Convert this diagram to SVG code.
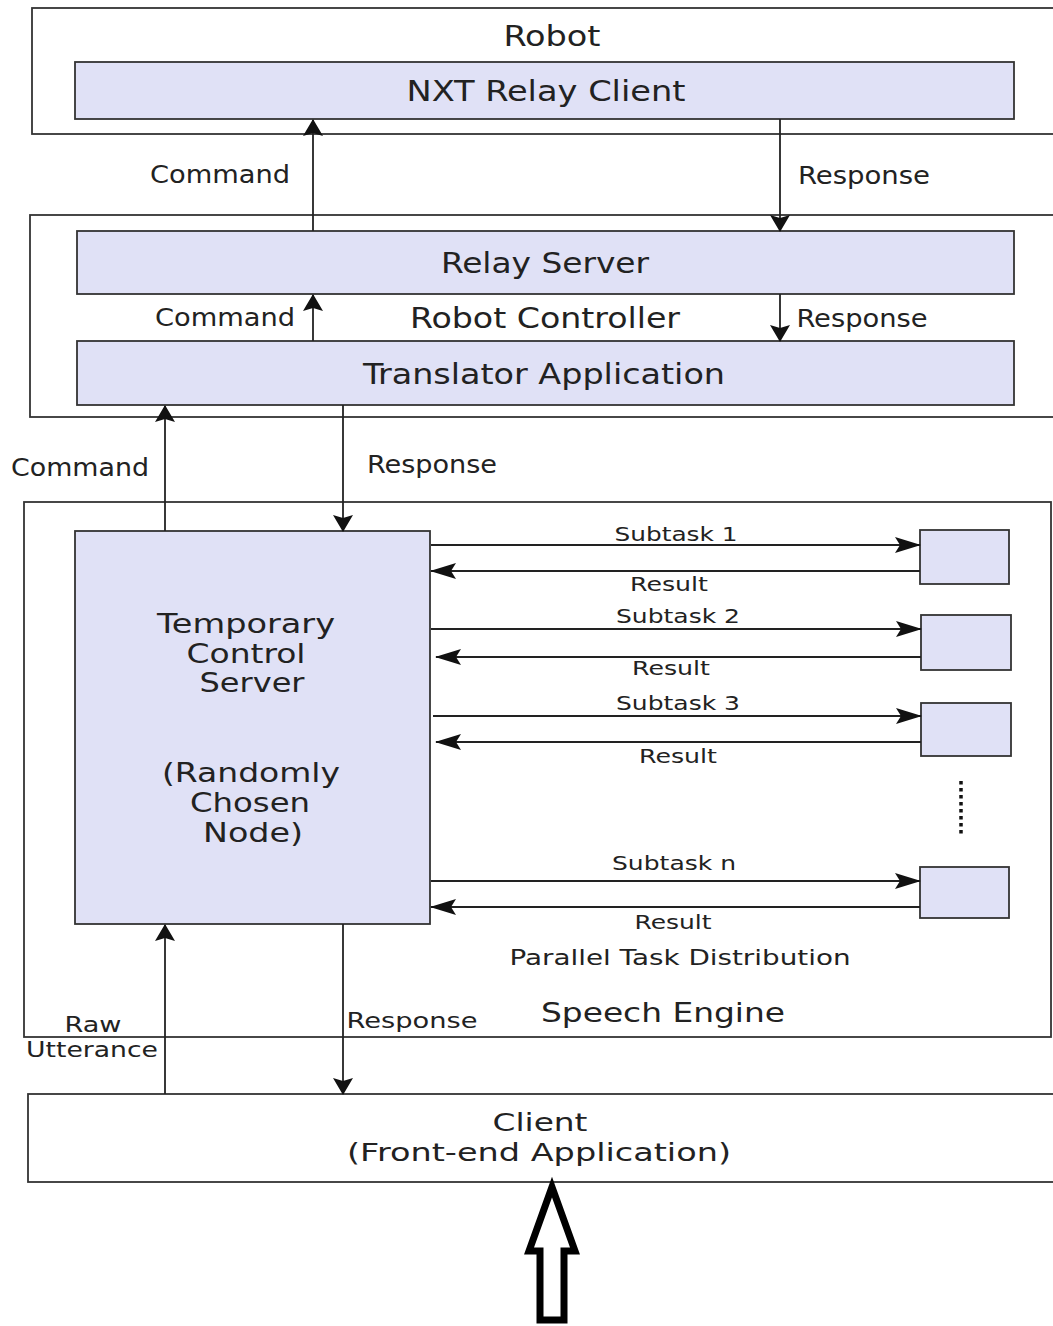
<svg xmlns="http://www.w3.org/2000/svg" width="1053" height="1326" viewBox="0 0 1053 1326">
  <style>
    .frame { fill: #ffffff; stroke: #333333; stroke-width: 1.8; }
    .node { fill: #e0e1f6; stroke: #333333; stroke-width: 1.8; }
    .link { fill: none; stroke: #222222; stroke-width: 1.8; }
    .cond { font-family: "DejaVu Sans Condensed", "DejaVu Sans", sans-serif; fill: #222222; text-anchor: middle; }
    .wide { font-family: "DejaVu Sans", Verdana, sans-serif; fill: #222222; text-anchor: middle; }
  </style>
  <defs>
    <!-- long, narrow head for the subtask/result links -->
    <marker id="arrow" viewBox="0 0 26 16" markerWidth="26" markerHeight="16" refX="25" refY="8" orient="auto" markerUnits="userSpaceOnUse">
      <path d="M0,0 L26,8 L0,16 L5,8 z" fill="#111111"/>
    </marker>
    <!-- short, broad head for the vertical links -->
    <marker id="arrowS" viewBox="0 0 17 20" markerWidth="17" markerHeight="20" refX="16" refY="10" orient="auto" markerUnits="userSpaceOnUse">
      <path d="M0,0 L17,10 L0,20 L3,10 z" fill="#111111"/>
    </marker>
  </defs>

  <rect width="1053" height="1326" fill="#ffffff"/>

  <!-- Robot -->
  <g id="robot">
    <rect class="frame" x="32" y="8" width="1030" height="126"/>
    <text class="cond" x="552" y="46" font-size="29" textLength="97" lengthAdjust="spacingAndGlyphs">Robot</text>
  </g>
  <g id="nxt-relay-client">
    <rect class="node" x="75" y="62" width="939" height="57"/>
    <text class="cond" x="546" y="101" font-size="29" textLength="279" lengthAdjust="spacingAndGlyphs">NXT Relay Client</text>
  </g>

  <!-- Robot Controller -->
  <g id="robot-controller">
    <rect class="frame" x="30" y="215" width="1032" height="202"/>
    <text class="cond" x="545" y="328" font-size="29" textLength="270" lengthAdjust="spacingAndGlyphs">Robot Controller</text>
  </g>
  <g id="relay-server">
    <rect class="node" x="77" y="231" width="937" height="63"/>
    <text class="cond" x="545" y="273" font-size="29" textLength="208" lengthAdjust="spacingAndGlyphs">Relay Server</text>
  </g>
  <g id="translator-application">
    <rect class="node" x="77" y="341" width="937" height="64"/>
    <text class="cond" x="544" y="384" font-size="29" textLength="362" lengthAdjust="spacingAndGlyphs">Translator Application</text>
  </g>

  <!-- Speech Engine -->
  <g id="speech-engine">
    <rect class="frame" x="24" y="502" width="1027" height="535"/>
    <text class="wide" x="663" y="1022" font-size="26" textLength="244" lengthAdjust="spacingAndGlyphs">Speech Engine</text>
    <text class="wide" x="680" y="965" font-size="21" textLength="341" lengthAdjust="spacingAndGlyphs">Parallel Task Distribution</text>
    <line x1="961" y1="781" x2="961" y2="836" stroke="#111111" stroke-width="3.5" stroke-dasharray="3.5,3.5"/>
  </g>
  <g id="temporary-control-server">
    <rect class="node" x="75" y="531" width="355" height="393"/>
    <text class="wide" x="246" y="633" font-size="26" textLength="178" lengthAdjust="spacingAndGlyphs">Temporary</text>
    <text class="wide" x="246" y="663" font-size="26" textLength="119" lengthAdjust="spacingAndGlyphs">Control</text>
    <text class="wide" x="252" y="692" font-size="26" textLength="105" lengthAdjust="spacingAndGlyphs">Server</text>
    <text class="wide" x="251" y="782" font-size="26" textLength="178" lengthAdjust="spacingAndGlyphs">(Randomly</text>
    <text class="wide" x="250" y="812" font-size="26" textLength="120" lengthAdjust="spacingAndGlyphs">Chosen</text>
    <text class="wide" x="253" y="842" font-size="26" textLength="100" lengthAdjust="spacingAndGlyphs">Node)</text>
  </g>
  <g id="worker-1"><rect class="node" x="920" y="530" width="89" height="54"/></g>
  <g id="worker-2"><rect class="node" x="921" y="615" width="90" height="55"/></g>
  <g id="worker-3"><rect class="node" x="921" y="703" width="90" height="53"/></g>
  <g id="worker-n"><rect class="node" x="920" y="867" width="89" height="51"/></g>

  <!-- Client -->
  <g id="client">
    <rect class="frame" x="28" y="1094" width="1034" height="88"/>
    <text class="wide" x="540" y="1131" font-size="25" textLength="95" lengthAdjust="spacingAndGlyphs">Client</text>
    <text class="wide" x="539" y="1161" font-size="25" textLength="384" lengthAdjust="spacingAndGlyphs">(Front-end Application)</text>
  </g>

  <!-- Connectors -->
  <g id="connectors">
    <!-- Robot Controller <-> Robot -->
    <line class="link" x1="313" y1="231" x2="313" y2="120" marker-end="url(#arrowS)"/>
    <line class="link" x1="780" y1="119" x2="780" y2="231" marker-end="url(#arrowS)"/>
    <text class="cond" x="220" y="183" font-size="24" textLength="140" lengthAdjust="spacingAndGlyphs">Command</text>
    <text class="cond" x="864" y="184" font-size="24" textLength="132" lengthAdjust="spacingAndGlyphs">Response</text>

    <!-- Translator <-> Relay Server -->
    <line class="link" x1="313" y1="341" x2="313" y2="295" marker-end="url(#arrowS)"/>
    <line class="link" x1="780" y1="294" x2="780" y2="341" marker-end="url(#arrowS)"/>
    <text class="cond" x="225" y="326" font-size="24" textLength="140" lengthAdjust="spacingAndGlyphs">Command</text>
    <text class="cond" x="862" y="327" font-size="24" textLength="131" lengthAdjust="spacingAndGlyphs">Response</text>

    <!-- Temporary Control Server <-> Translator -->
    <line class="link" x1="165" y1="531" x2="165" y2="406" marker-end="url(#arrowS)"/>
    <line class="link" x1="343" y1="405" x2="343" y2="531" marker-end="url(#arrowS)"/>
    <text class="cond" x="80" y="476" font-size="24" textLength="138" lengthAdjust="spacingAndGlyphs">Command</text>
    <text class="cond" x="432" y="473" font-size="24" textLength="130" lengthAdjust="spacingAndGlyphs">Response</text>

    <!-- Parallel subtasks -->
    <line class="link" x1="431" y1="545" x2="920" y2="545" marker-end="url(#arrow)"/>
    <line class="link" x1="920" y1="571" x2="431" y2="571" marker-end="url(#arrow)"/>
    <text class="wide" x="676" y="541" font-size="19" textLength="123" lengthAdjust="spacingAndGlyphs">Subtask 1</text>
    <text class="wide" x="669" y="591" font-size="19" textLength="78" lengthAdjust="spacingAndGlyphs">Result</text>

    <line class="link" x1="431" y1="629" x2="921" y2="629" marker-end="url(#arrow)"/>
    <line class="link" x1="921" y1="657" x2="436" y2="657" marker-end="url(#arrow)"/>
    <text class="wide" x="678" y="623" font-size="19" textLength="124" lengthAdjust="spacingAndGlyphs">Subtask 2</text>
    <text class="wide" x="671" y="675" font-size="19" textLength="78" lengthAdjust="spacingAndGlyphs">Result</text>

    <line class="link" x1="433" y1="716" x2="921" y2="716" marker-end="url(#arrow)"/>
    <line class="link" x1="921" y1="742" x2="436" y2="742" marker-end="url(#arrow)"/>
    <text class="wide" x="678" y="710" font-size="19" textLength="124" lengthAdjust="spacingAndGlyphs">Subtask 3</text>
    <text class="wide" x="678" y="763" font-size="19" textLength="78" lengthAdjust="spacingAndGlyphs">Result</text>

    <line class="link" x1="431" y1="881" x2="920" y2="881" marker-end="url(#arrow)"/>
    <line class="link" x1="920" y1="907" x2="431" y2="907" marker-end="url(#arrow)"/>
    <text class="wide" x="674" y="870" font-size="19" textLength="124" lengthAdjust="spacingAndGlyphs">Subtask n</text>
    <text class="wide" x="673" y="929" font-size="19" textLength="77" lengthAdjust="spacingAndGlyphs">Result</text>

    <!-- Client <-> Temporary Control Server -->
    <line class="link" x1="165" y1="1094" x2="165" y2="925" marker-end="url(#arrowS)"/>
    <line class="link" x1="343" y1="924" x2="343" y2="1094" marker-end="url(#arrowS)"/>
    <text class="wide" x="412" y="1028" font-size="21" textLength="131" lengthAdjust="spacingAndGlyphs">Response</text>
    <text class="wide" x="93" y="1032" font-size="21" textLength="57" lengthAdjust="spacingAndGlyphs">Raw</text>
    <text class="wide" x="92" y="1057" font-size="21" textLength="132" lengthAdjust="spacingAndGlyphs">Utterance</text>

    <!-- User input into the client -->
    <path d="M552,1187 L529,1251 L540,1251 L540,1320 L564,1320 L564,1251 L575,1251 Z" fill="#ffffff" stroke="#000000" stroke-width="7" stroke-linejoin="miter"/>
  </g>
</svg>
